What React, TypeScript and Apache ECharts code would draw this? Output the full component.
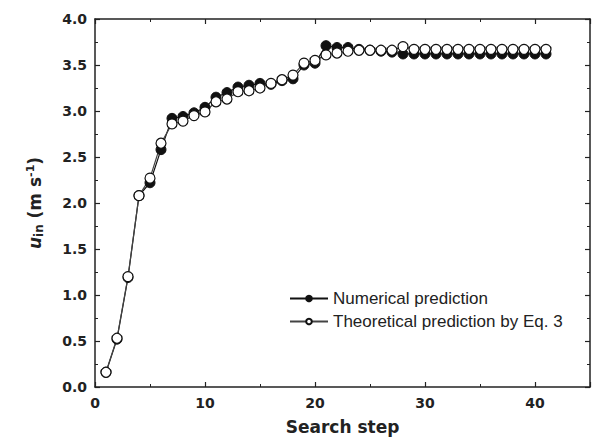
import React, { useEffect, useRef, useState } from "react";
import * as echarts from "echarts";

const steps = [1, 2, 3, 4, 5, 6, 7, 8, 9, 10, 11, 12, 13, 14, 15, 16, 17, 18, 19, 20, 21, 22, 23, 24, 25, 26, 27, 28, 29, 30, 31, 32, 33, 34, 35, 36, 37, 38, 39, 40, 41];
const numerical = [0.16, 0.52, 1.19, 2.08, 2.22, 2.58, 2.92, 2.94, 2.98, 3.04, 3.15, 3.2, 3.26, 3.28, 3.3, 3.29, 3.33, 3.35, 3.5, 3.52, 3.71, 3.69, 3.69, 3.67, 3.66, 3.65, 3.64, 3.62, 3.62, 3.62, 3.62, 3.62, 3.62, 3.62, 3.62, 3.62, 3.62, 3.62, 3.62, 3.62, 3.62];
const theoretical = [0.16, 0.53, 1.2, 2.08, 2.27, 2.65, 2.86, 2.89, 2.95, 2.99, 3.1, 3.13, 3.21, 3.22, 3.25, 3.3, 3.34, 3.39, 3.52, 3.55, 3.61, 3.63, 3.65, 3.66, 3.66, 3.66, 3.66, 3.7, 3.67, 3.67, 3.67, 3.67, 3.67, 3.67, 3.67, 3.67, 3.67, 3.67, 3.67, 3.67, 3.67];
const seriesNames = ["Numerical prediction", "Theoretical prediction by Eq. 3"];
const xTicks = [0, 10, 20, 30, 40];
const yTicks = [0.0, 0.5, 1.0, 1.5, 2.0, 2.5, 3.0, 3.5, 4.0];
const X_MAX = 45;
const Y_MAX = 4;

const BOLD = "DejaVu Sans";
const AX = "#222";

function axisCommon(showLabel: boolean) {
  return {
    show: true,
    axisLine: { show: true, onZero: false, lineStyle: { color: AX, width: 1.5 } },
    axisTick: { show: true, inside: true, length: 5, lineStyle: { color: AX, width: 1.2 } },
    minorTick: { show: true, splitNumber: 2, length: 3, lineStyle: { color: AX, width: 1 } },
    splitLine: { show: false },
    minorSplitLine: { show: false },
    axisLabel: { show: showLabel, fontFamily: BOLD, fontWeight: "bold", fontSize: 14, color: AX },
  };
}

export default function App() {
  const ref = useRef<HTMLDivElement>(null);
  const [err, setErr] = useState("");
  useEffect(() => {
    if (!ref.current) return;
    const chart = echarts.init(ref.current, null, { renderer: "svg" });
    const xMin = xTicks[0];
    const yMin = yTicks[0];
    try {
      chart.setOption({
        animation: false,
        backgroundColor: "#fff",
        grid: { left: 95, top: 19, right: 2, bottom: 55, outerBoundsMode: "none" },
        legend: {
          orient: "vertical",
          left: 284,
          top: 285,
          itemWidth: 38,
          itemHeight: 7,
          itemGap: 6,
          data: seriesNames,
          textStyle: { fontFamily: "Liberation Sans", fontSize: 17, color: AX },
        },
        xAxis: [
          {
            type: "value",
            position: "bottom",
            min: xMin,
            max: X_MAX,
            interval: 10,
            ...axisCommon(true),
            axisLabel: {
              ...axisCommon(true).axisLabel,
              margin: 9,
              formatter: (v: number) => (xTicks.indexOf(v) >= 0 ? String(v) : ""),
            },
            name: "Search step",
            nameLocation: "middle",
            nameGap: 31,
            nameTextStyle: { fontFamily: BOLD, fontWeight: "bold", fontSize: 17, color: AX },
          },
          { type: "value", position: "top", min: xMin, max: X_MAX, interval: 10, ...axisCommon(false) },
        ],
        yAxis: [
          {
            type: "value",
            position: "left",
            min: yMin,
            max: Y_MAX,
            interval: 0.5,
            ...axisCommon(true),
            axisLabel: {
              ...axisCommon(true).axisLabel,
              margin: 8,
              formatter: (v: number) => v.toFixed(1),
            },
            name: "{i|u}{sub|in}{b| (m s}{sup|-1}{b|)}",
            nameLocation: "middle",
            nameGap: 50,
            nameTextStyle: {
              fontFamily: BOLD,
              fontWeight: "bold",
              fontSize: 17,
              color: AX,
              rich: {
                i: { fontFamily: BOLD, fontWeight: "bold", fontStyle: "italic", fontSize: 17, color: AX },
                b: { fontFamily: BOLD, fontWeight: "bold", fontSize: 17, color: AX },
                sub: { fontFamily: BOLD, fontWeight: "bold", fontSize: 12, color: AX, padding: [9, 0, 0, 0] },
                sup: { fontFamily: BOLD, fontWeight: "bold", fontSize: 11, color: AX, padding: [0, 0, 9, 0] },
              },
            },
          },
          { type: "value", position: "right", min: yMin, max: Y_MAX, interval: 0.5, ...axisCommon(false) },
        ],
        series: [
          {
            name: seriesNames[0],
            type: "line",
            xAxisIndex: 0,
            yAxisIndex: 0,
            data: steps.map((s, i) => [s, numerical[i]]),
            symbol: "circle",
            symbolSize: 10,
            itemStyle: { color: "#111", borderColor: "#111", borderWidth: 1 },
            lineStyle: { color: "#111", width: 1.2 },
          },
          {
            name: seriesNames[1],
            type: "line",
            xAxisIndex: 0,
            yAxisIndex: 0,
            data: steps.map((s, i) => [s, theoretical[i]]),
            symbol: "circle",
            symbolSize: 10,
            itemStyle: { color: "#fff", borderColor: "#111", borderWidth: 1.2 },
            lineStyle: { color: "#444", width: 1.2 },
          },
        ],
      });
    } catch (e: any) {
      setErr(String(e && e.stack ? e.stack : e).slice(0, 300));
    }
    return () => chart.dispose();
  }, []);
  return (
    <>
      <div
        ref={ref}
        style={{ position: "fixed", left: 0, top: 0, width: 592, height: 442, background: "#fff" }}
      />
      {err ? (
        <div style={{ position: "fixed", left: 100, top: 30, width: 400, color: "red", fontSize: 10, fontFamily: "sans-serif" }}>
          {err}
        </div>
      ) : null}
    </>
  );
}
